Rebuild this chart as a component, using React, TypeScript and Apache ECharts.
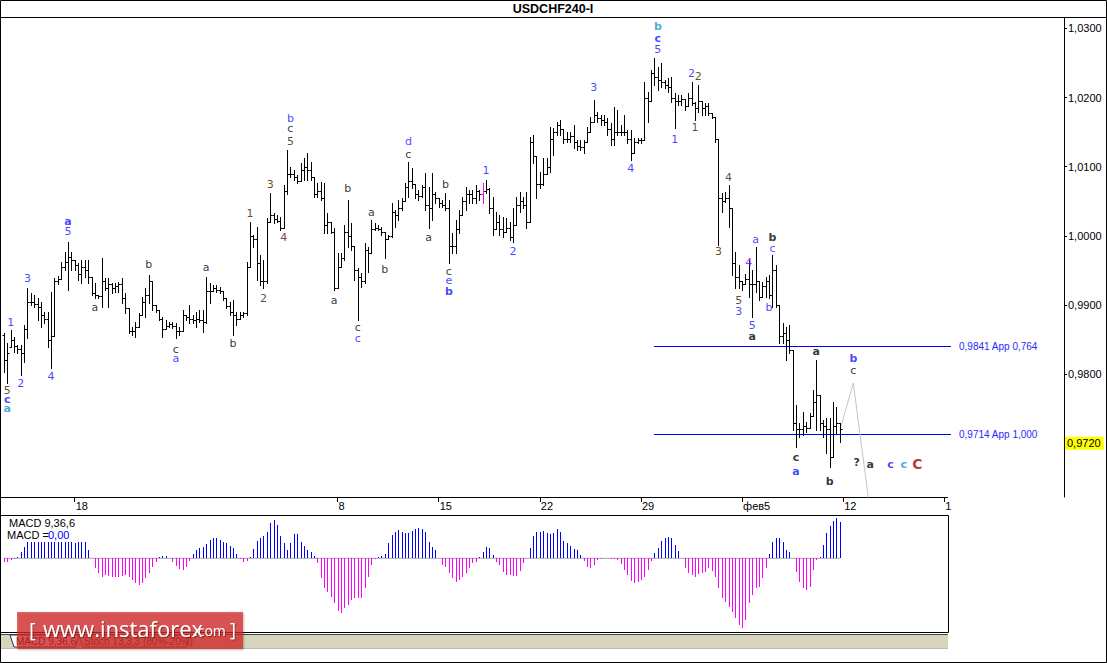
import React, { useEffect, useRef } from 'react';
import * as echarts from 'echarts';

// ---------- DATA ----------
// 4-hour USDCHF bars: [high, low, close] in pips (price x 10000)
const firstOpen = 9857;
const barsPart1: number[][] = [
  [9860,9803,9820],[9845,9787,9830],[9864,9839,9850],[9854,9832,9840],[9842,9831,9837],
  [9842,9799,9830],[9871,9818,9865],[9925,9852,9905],[9917,9900,9905],[9914,9897,9902],
  [9910,9878,9897],[9904,9868,9885],[9890,9874,9880],[9890,9839,9850],[9919,9809,9855],
  [9939,9855,9935],[9942,9930,9938],[9962,9938,9955],[9977,9951,9962],[9991,9922,9970],
  [9977,9951,9965],[9965,9950,9958],[9961,9936,9945],[9965,9932,9955],[9965,9940,9950],
  [9965,9932,9940],[9940,9914,9918],[9932,9910,9915],[9915,9910,9913],[9968,9897,9935],
  [9939,9922,9925],[9939,9897,9930],[9932,9917,9925],[9932,9919,9928],[9933,9919,9930],
  [9939,9903,9910],[9917,9888,9895],[9895,9860,9862],[9868,9857,9862],[9875,9854,9868],
  [9888,9868,9885],[9912,9885,9905],[9925,9883,9915],[9943,9903,9935],[9935,9893,9900],
  [9900,9890,9893],[9893,9878,9880],[9883,9854,9865],[9878,9865,9870],[9875,9868,9872],
];
const barsPart2: number[][] = [
  [9875,9867,9870],[9874,9852,9862],[9868,9857,9862],[9893,9862,9885],[9886,9878,9882],
  [9900,9874,9880],[9886,9874,9878],[9890,9868,9880],[9893,9875,9878],[9893,9861,9875],
  [9940,9874,9920],[9932,9903,9920],[9929,9920,9925],[9929,9919,9922],[9926,9917,9920],
  [9920,9907,9910],[9910,9896,9898],[9904,9886,9890],[9907,9857,9885],[9890,9871,9880],
  [9890,9880,9886],[9890,9883,9888],[9962,9886,9955],[10020,9955,10000],[10001,9984,9995],
  [10013,9936,9960],[9972,9929,9935],[9965,9925,9935],[10026,9932,10020],[10062,10020,10030],
  [10033,10019,10025],[10030,10020,10022],[10027,10008,10012],[10074,10011,10065],[10124,10060,10090],
  [10100,10085,10090],[10095,10081,10085],[10088,10076,10080],[10105,10080,10095],[10113,10081,10100],
  [10120,10081,10095],[10107,10081,10085],[10085,10056,10060],[10076,10056,10065],[10078,10052,10055],
  [10076,10004,10015],[10033,10004,10020],[10020,10004,10006],[10011,9922,9925],[9975,9925,9955],
];
const barsPart3: number[][] = [
  [9975,9955,9968],[10016,9965,10005],[10052,9984,10000],[10019,9980,9985],[9985,9936,9950],
  [9953,9878,9940],[9946,9926,9935],[9990,9932,9980],[9984,9948,9975],[10023,9975,10010],
  [10019,10008,10012],[10016,10008,10010],[10013,10001,10005],[10005,9968,9995],[10001,9995,10000],
  [10047,9998,10035],[10037,10013,10030],[10052,10023,10040],[10055,10037,10050],[10076,10050,10070],
  [10107,10056,10080],[10098,10069,10075],[10075,10055,10060],[10066,10052,10058],[10074,10056,10070],
  [10091,10037,10045],[10071,10011,10040],[10091,10023,10060],[10063,10047,10055],[10055,10042,10048],
  [10052,10042,10045],[10062,10037,10040],[10052,9961,9985],[10004,9975,9985],[10023,9975,10010],
  [10037,10004,10030],[10056,10030,10050],[10071,10037,10060],[10066,10047,10060],[10066,10047,10055],
  [10074,10047,10065],[10066,10052,10060],[10076,10047,10065],[10081,10062,10068],[10069,10033,10040],
  [10056,10001,10010],[10035,10010,10020],[10030,10001,10010],[10027,9998,10005],[10026,10005,10012],
];
const barsPart4: number[][] = [
  [10020,9994,9998],[10040,9991,10015],[10056,10015,10045],[10063,10035,10050],[10056,10040,10045],
  [10063,10011,10020],[10143,10020,10135],[10146,10105,10115],[10115,10055,10075],[10092,10069,10075],
  [10113,10074,10090],[10113,10090,10100],[10157,10092,10140],[10156,10117,10150],[10165,10146,10160],
  [10167,10146,10155],[10155,10134,10140],[10150,10136,10140],[10150,10136,10145],[10160,10127,10135],
  [10139,10124,10130],[10139,10124,10128],[10139,10120,10135],[10157,10135,10150],[10172,10150,10165],
  [10196,10165,10175],[10179,10165,10170],[10175,10160,10168],[10175,10160,10165],[10170,10146,10155],
  [10163,10131,10140],[10186,10131,10150],[10182,10146,10150],[10160,10146,10150],[10175,10146,10150],
  [10153,10134,10140],[10153,10110,10120],[10141,10120,10135],[10141,10134,10138],[10141,10134,10139],
  [10222,10139,10200],[10208,10165,10195],[10240,10195,10235],[10257,10218,10230],[10244,10211,10225],
  [10250,10215,10222],[10225,10214,10218],[10228,10208,10215],[10230,10194,10200],[10207,10156,10195],
];
const barsPart5: number[][] = [
  [10204,10189,10195],[10204,10189,10198],[10198,10182,10188],[10207,10188,10200],[10222,10189,10192],
  [10194,10167,10185],[10218,10179,10195],[10195,10175,10185],[10192,10175,10188],[10192,10175,10178],
  [10178,10170,10172],[10172,10136,10140],[10140,9987,10055],[10062,10035,10050],[10063,10049,10055],
  [10074,10013,10040],[10040,9943,9960],[9977,9925,9940],[9958,9925,9935],[9935,9922,9930],
  [9945,9930,9938],[9965,9912,9930],[9951,9883,9930],[9984,9919,9935],[9935,9907,9912],
  [9933,9912,9928],[9940,9912,9935],[9943,9910,9915],[9972,9897,9950],[9958,9897,9900],
  [9900,9845,9855],[9874,9845,9860],[9868,9821,9850],[9871,9831,9835],[9835,9719,9730],
  [9755,9695,9720],[9729,9709,9720],[9745,9712,9725],[9731,9716,9722],[9744,9722,9740],
  [9777,9740,9760],[9821,9719,9770],[9770,9719,9730],[9734,9709,9725],[9737,9686,9720],
  [9737,9666,9680],[9760,9680,9725],[9752,9715,9730],[9730,9702,9720],
];
const highlightedBar = 142; // the magenta bar

// MACD 9,36,6 histogram (one per bar, relative units)
const macdHist1 = [
  -10,-12,-5,-3,5,20,35,48,48,48, 48,48,48,48,48,48,48,48,48,48,
  48,45,48,50,50,25,2,-28,-45,-57, -50,-52,-55,-57,-55,-52,-50,-55,-65,-75,
  -80,-75,-60,-45,-25,-12,5,7,7,2, -12,-22,-32,-35,-25,-8,12,25,30,33,
  43,55,62,62,55,50,45,38,30,12, -1,-10,-8,5,28,52,62,68,78,105,
  115,100,68,45,25,45,72,72,50,38, 25,20,8,-15,-60,-88,-100,-115,-135,-158,
];
const macdHist2 = [
  -165,-150,-140,-125,-118,-118,-118,-90,-55,-20, -3,3,7,12,45,70,80,85,80,77,
  75,82,88,92,88,78,50,35,25,2, -20,-25,-45,-60,-72,-65,-55,-45,-30,-15,
  -12,3,20,35,32,10,-10,-20,-40,-50, -50,-52,-52,-38,-15,2,30,68,80,80,
  83,75,72,75,88,78,52,45,38,28, 25,10,-8,-25,-28,-20,-5,-1,1,1,
  -1,-2,-5,-18,-35,-50,-68,-75,-72,-65, -55,-35,-8,15,32,52,62,65,62,40,
];
const macdHist3 = [
  22,2,-28,-45,-50,-55,-48,-45,-40,-30, -38,-55,-88,-118,-130,-145,-160,-180,-200,-210,
  -185,-135,-110,-90,-85,-58,-30,12,48,62, 60,50,25,20,2,-40,-72,-90,-95,-85,
  -35,-5,5,40,75,98,112,120,110,
];

const priceTicks = [0.97, 0.98, 0.99, 1.0, 1.01, 1.02, 1.03];
const dateTicks: [number, string][] = [
  [21, '18'], [99, '8'], [129, '15'], [159, '22'], [189, '29'], [219, 'фев5'], [249, '12'], [279, '1'],
];
const fibLevels = [
  { price: 0.9841, text: '0,9841 App 0,764', from: 193, to: 281 },
  { price: 0.9714, text: '0,9714 App 1,000', from: 193, to: 281 },
];
const lastPrice = 0.972;
const forecastPath = [[248, 0.9719], [252, 0.9787], [257, 0.9601]];

// wave labels: [bar index, price, text, colour, bold, size]
const waveLabels: [number, number, string, string, boolean, number][] = [
  [1, 0.9776, '5', 'brown', false, 11], [1, 0.9764, 'c', 'blue', true, 11], [1, 0.9750, 'a', 'teal', true, 11],
  [2, 0.9874, '1', 'blue', false, 11], [5, 0.9786, '2', 'blue', false, 11], [7, 0.9938, '3', 'blue', false, 11],
  [14, 0.9797, '4', 'blue', false, 11], [19, 1.0006, '5', 'blue', false, 11], [19, 1.0020, 'a', 'blue', true, 11],
  [27, 0.9896, 'a', 'black', false, 11], [43, 0.9958, 'b', 'black', false, 11], [51, 0.9836, 'c', 'black', false, 11],
  [51, 0.9823, 'a', 'blue', false, 11], [60, 0.9954, 'a', 'black', false, 11], [68, 0.9845, 'b', 'black', false, 11],
  [73, 1.0033, '1', 'brown', false, 11], [77, 0.9909, '2', 'brown', false, 11], [79, 1.0074, '3', 'brown', false, 11],
  [83, 0.9998, '4', 'maroon', false, 11], [85, 1.0136, '5', 'brown', false, 11], [85, 1.0155, 'c', 'black', false, 11],
  [85, 1.0170, 'b', 'blue', false, 11], [98, 0.9907, 'a', 'black', false, 11], [102, 1.0068, 'b', 'black', false, 11],
  [105, 0.9867, 'c', 'black', false, 11], [105, 0.9851, 'c', 'blue', false, 11], [109, 1.0034, 'a', 'black', false, 11],
  [113, 0.9952, 'b', 'black', false, 11], [120, 1.0117, 'c', 'black', false, 11], [120, 1.0136, 'd', 'blue', false, 11],
  [126, 0.9998, 'a', 'black', false, 11], [131, 1.0074, 'b', 'black', false, 11], [132, 0.9949, 'c', 'black', false, 11],
  [132, 0.9936, 'e', 'blue', false, 11], [132, 0.9920, 'b', 'blue', true, 11], [143, 1.0094, '1', 'blue', false, 11],
  [151, 0.9977, '2', 'blue', false, 11], [175, 1.0214, '3', 'blue', false, 11], [186, 1.0098, '4', 'blue', false, 11],
  [194, 1.0270, '5', 'blue', false, 11], [194, 1.0286, 'c', 'blue', true, 11], [194, 1.0302, 'b', 'teal', true, 11],
  [199, 1.0140, '1', 'blue', false, 11], [204, 1.0235, '2', 'blue', false, 11], [206, 1.0230, '2', 'brown', false, 11],
  [205, 1.0157, '1', 'brown', false, 11], [212, 0.9977, '3', 'brown', false, 11], [215, 1.0084, '4', 'brown', false, 11],
  [218, 0.9907, '5', 'brown', false, 11], [218, 0.9890, '3', 'blue', false, 11], [221, 0.9961, '4', 'purple', false, 11],
  [222, 0.9871, '5', 'blue', false, 11], [222, 0.9854, 'a', 'black', true, 11], [223, 0.9995, 'a', 'blue', false, 11],
  [228, 0.9997, 'b', 'black', true, 11], [228, 0.9982, 'c', 'blue', false, 11], [227, 0.9897, 'b', 'blue', false, 11],
  [241, 0.9832, 'a', 'black', true, 11], [235, 0.9680, 'c', 'black', true, 11], [235, 0.9659, 'a', 'blue', true, 11],
  [245, 0.9644, 'b', 'black', true, 11], [252, 0.9823, 'b', 'blue', true, 11], [252, 0.9805, 'c', 'black', false, 11],
  [253, 0.9672, '?', 'black', true, 11], [257, 0.9670, 'a', 'black', true, 11], [263, 0.9670, 'c', 'blue', true, 11],
  [267, 0.9670, 'c', 'teal', true, 11], [271, 0.9670, 'C', 'darkred', true, 14],
];

// ---------- STYLE / LAYOUT ----------
const COLORS: Record<string, string> = {
  blue: '#1414ff', teal: '#1b94cc', brown: '#3a1a00', maroon: '#5a0c00', black: '#000000',
  purple: '#8a00e6', darkred: '#b00000',
};
const PRICE_CATS = 315;
const MACD_CATS = 281;
const GRID_LEFT = 2.2;
const STEP = 3.3708;

function buildOption() {
  const bars = [...barsPart1, ...barsPart2, ...barsPart3, ...barsPart4, ...barsPart5];
  const ohlc = bars.map((b, j) => {
    const open = j === 0 ? firstOpen : bars[j - 1][2];
    return [j, open / 1e4, b[0] / 1e4, b[1] / 1e4, b[2] / 1e4];
  });
  const hist = [...macdHist1, ...macdHist2, ...macdHist3].map((v, k) => [k, v]);
  const priceCats = Array.from({ length: PRICE_CATS }, (_, i) => String(i));
  const macdCats = Array.from({ length: MACD_CATS }, (_, i) => String(i));
  const tickMap: Record<number, string> = {};
  dateTicks.forEach(([i, t]) => (tickMap[i] = t));
  const fmt = (v: number) => v.toFixed(4).replace('.', ',');

  const g: any[] = [];
  // title
  g.push({ type: 'text', x: 553, y: 9, style: { text: 'USDCHF240-I', fill: '#000', font: 'bold 12.5px "Liberation Sans"', align: 'center', verticalAlign: 'middle' } });
  g.push({ type: 'line', shape: { x1: 0, y1: 17.5, x2: 1107, y2: 17.5 }, style: { stroke: '#000', lineWidth: 1 } });
  // x-axis strip & MACD box
  g.push({ type: 'line', shape: { x1: 0, y1: 497.5, x2: 948, y2: 497.5 }, style: { stroke: '#000', lineWidth: 1 } });
  g.push({ type: 'rect', shape: { x: 0.5, y: 515.5, width: 948, height: 117 }, style: { fill: 'none', stroke: '#000', lineWidth: 1 } });
  g.push({ type: 'line', shape: { x1: 0, y1: 634.5, x2: 948, y2: 634.5 }, style: { stroke: '#444', lineWidth: 1 } });
  g.push({ type: 'rect', shape: { x: 1, y: 635, width: 947, height: 13 }, style: { fill: '#d8d5bd' } });
  g.push({ type: 'line', shape: { x1: 0, y1: 648.5, x2: 948, y2: 648.5 }, style: { stroke: '#bbb', lineWidth: 1 } });
  // tabs
  g.push({ type: 'polygon', shape: { points: [[10, 635], [14, 647], [75, 647], [79, 635]] }, style: { fill: '#fff', stroke: '#333', lineWidth: 1 } });
  g.push({ type: 'text', x: 16, y: 641, style: { text: 'MACD 9,36,6', fill: '#000', font: '10px "Liberation Sans"', verticalAlign: 'middle' } });
  g.push({ type: 'polygon', shape: { points: [[79, 635], [83, 647], [186, 647], [190, 635]] }, style: { fill: 'none', stroke: '#555', lineWidth: 1 } });
  g.push({ type: 'text', x: 84, y: 641, style: { text: 'Stoch 13,3,3 (80%-20%)', fill: '#333', font: '10px "Liberation Sans"', verticalAlign: 'middle' } });
  // MACD captions
  g.push({ type: 'text', x: 9, y: 523, style: { text: 'MACD 9,36,6', fill: '#000', font: '11px "Liberation Sans"', verticalAlign: 'middle' } });
  g.push({ type: 'text', x: 7, y: 535, style: { text: 'MACD =', fill: '#000', font: '11px "Liberation Sans"', verticalAlign: 'middle' } });
  g.push({ type: 'text', x: 48, y: 535, style: { text: '0,00', fill: '#0000ff', font: '11px "Liberation Sans"', verticalAlign: 'middle' } });
  // outer border
  g.push({ type: 'rect', shape: { x: 0.5, y: 0.5, width: 1106, height: 662 }, style: { fill: 'none', stroke: '#000', lineWidth: 1 } });
  // watermark
  g.push({ type: 'rect', z: 100, shape: { x: 17, y: 612, width: 226, height: 37 }, style: { fill: 'rgba(214,40,40,0.72)', shadowColor: 'rgba(0,0,0,0.35)', shadowBlur: 2, shadowOffsetX: 1, shadowOffsetY: 1 } });
  const wmShadow = { textShadowColor: 'rgba(80,0,0,0.5)', textShadowBlur: 1, textShadowOffsetX: 1, textShadowOffsetY: 1 };
  g.push({ type: 'text', z: 101, x: 29, y: 629, style: { text: '[', fill: '#fff', font: '20px "Open Sans"', verticalAlign: 'middle', ...wmShadow } });
  g.push({ type: 'text', z: 101, x: 43, y: 628, style: { text: 'www.instaforex', fill: '#fff', font: '22px "Open Sans"', verticalAlign: 'middle', ...wmShadow } });
  g.push({ type: 'text', z: 101, x: 194, y: 630, style: { text: '.com', fill: '#fff', font: '14px "Open Sans"', verticalAlign: 'middle', ...wmShadow } });
  g.push({ type: 'text', z: 101, x: 230, y: 629, style: { text: ']', fill: '#fff', font: '18px "Open Sans"', verticalAlign: 'middle', ...wmShadow } });

  return {
    animation: false,
    backgroundColor: '#ffffff',
    textStyle: { fontFamily: 'Liberation Sans' },
    grid: [
      { left: GRID_LEFT, top: 18, width: PRICE_CATS * STEP, height: 479, containLabel: false, outerBoundsMode: 'none' },
      { left: GRID_LEFT, top: 515, width: MACD_CATS * STEP, height: 117, containLabel: false, outerBoundsMode: 'none' },
    ],
    xAxis: [
      {
        type: 'category', gridIndex: 0, data: priceCats, boundaryGap: true, position: 'bottom',
        axisLine: { show: false },
        axisTick: { show: true, alignWithLabel: true, length: 5, interval: (i: number) => i in tickMap, lineStyle: { color: '#000' } },
        axisLabel: {
          show: true, interval: (i: number) => i in tickMap, formatter: (v: string) => tickMap[Number(v)] || '',
          align: 'left', margin: 3, padding: [0, 0, 0, 1], fontSize: 11, color: '#000', lineHeight: 12,
          fontFamily: 'Liberation Sans',
        },
        splitLine: { show: false },
      },
      { type: 'category', gridIndex: 1, data: macdCats, boundaryGap: true, show: false },
    ],
    yAxis: [
      {
        type: 'value', gridIndex: 0, position: 'right', min: 0.96223, max: 1.0315,
        axisLine: { show: true, lineStyle: { color: '#000', width: 1 } },
        axisTick: { show: true, inside: false, length: 3, customValues: priceTicks, lineStyle: { color: '#000' } },
        axisLabel: { show: true, customValues: priceTicks, margin: 4, color: '#000', fontSize: 11, fontFamily: 'Liberation Sans', formatter: (v: number) => fmt(v) },
        splitLine: { show: false },
      },
      { type: 'value', gridIndex: 1, min: -221, max: 130, show: false, splitLine: { show: false } },
    ],
    series: [
      {
        type: 'custom', name: 'USDCHF', xAxisIndex: 0, yAxisIndex: 0, data: ohlc,
        encode: { x: 0, y: [1, 2, 3, 4] }, silent: true, z: 3,
        renderItem: (params: any, api: any) => {
          const j = api.value(0);
          const o = api.value(1), h = api.value(2), l = api.value(3), c = api.value(4);
          const ph = api.coord([j, h]);
          const pl = api.coord([j, l]);
          const po = api.coord([j, Math.min(h, Math.max(l, o))]);
          const pc = api.coord([j, c]);
          const x = Math.round(ph[0]) + 0.5;
          const color = params.dataIndex === highlightedBar ? '#ff00ff' : '#000000';
          const st = { stroke: color, lineWidth: 1 };
          const yo = Math.round(po[1]) + 0.5;
          const yc = Math.round(pc[1]) + 0.5;
          return {
            type: 'group',
            children: [
              { type: 'line', shape: { x1: x, y1: Math.round(ph[1]), x2: x, y2: Math.round(pl[1]) + 1 }, style: st },
              { type: 'line', shape: { x1: x - 2, y1: yo, x2: x, y2: yo }, style: st },
              { type: 'line', shape: { x1: x, y1: yc, x2: x + 2, y2: yc }, style: st },
            ],
          };
        },
      },
      {
        type: 'line', name: 'forecast', xAxisIndex: 0, yAxisIndex: 0, data: forecastPath, symbol: 'none',
        lineStyle: { color: '#c4c4c4', width: 1 }, clip: true, silent: true, z: 2,
      },
      {
        type: 'custom', name: 'fib', xAxisIndex: 0, yAxisIndex: 0, silent: true, z: 2,
        data: fibLevels.map((f) => [f.from, f.to, f.price]),
        encode: { x: [0, 1], y: 2 },
        renderItem: (params: any, api: any) => {
          const f = fibLevels[params.dataIndex];
          const p1 = api.coord([api.value(0), api.value(2)]);
          const p2 = api.coord([api.value(1), api.value(2)]);
          const y = Math.round(p1[1]) + 0.5;
          return {
            type: 'group',
            children: [
              { type: 'line', shape: { x1: Math.round(p1[0]), y1: y, x2: Math.round(p2[0]), y2: y }, style: { stroke: '#0000ff', lineWidth: 1 } },
              {
                type: 'text', x: Math.round(p2[0]) + 8, y: y,
                style: { text: f.text, fill: '#2a2aff', font: '10px "Liberation Sans"', verticalAlign: 'middle', align: 'left' },
              },
            ],
          };
        },
      },
      {
        type: 'line', name: 'last', xAxisIndex: 0, yAxisIndex: 0, data: [], symbol: 'none', silent: true, z: 4,
        markLine: {
          silent: true, symbol: ['none', 'none'],
          lineStyle: { color: 'rgba(255,255,255,0)', width: 1, type: 'solid' },
          data: [{ yAxis: lastPrice }],
          label: {
            show: true, position: 'end', distance: 1, formatter: fmt(lastPrice), color: '#000', fontSize: 11,
            fontFamily: 'Liberation Sans', backgroundColor: '#ffff00', padding: [1, 3, 1, 2],
          },
        },
      },
      {
        type: 'scatter', name: 'waves', xAxisIndex: 0, yAxisIndex: 0, symbol: 'circle', symbolSize: 1,
        itemStyle: { color: 'rgba(0,0,0,0)' }, silent: true, z: 5,
        data: waveLabels.map(([j, p, t, c, b, s]) => ({
          value: [j, p],
          label: {
            show: true, position: 'inside', formatter: t, color: COLORS[c], fontWeight: b ? 'bold' : 'normal',
            fontSize: s, fontFamily: 'DejaVu Sans',
          },
        })),
      },
      {
        type: 'custom', name: 'MACD', xAxisIndex: 1, yAxisIndex: 1, data: hist, encode: { x: 0, y: 1 }, silent: true, z: 3,
        renderItem: (params: any, api: any) => {
          const k = api.value(0);
          const v = api.value(1);
          const p0 = api.coord([k, 0]);
          const p1 = api.coord([k, v]);
          const x = Math.round(p0[0]) + 0.5;
          return {
            type: 'line',
            shape: { x1: x, y1: Math.round(p0[1]), x2: x, y2: Math.round(p1[1]) },
            style: { stroke: v >= 0 ? '#0000ff' : '#ff00ff', lineWidth: 1 },
          };
        },
      },
      {
        type: 'line', name: 'zero', xAxisIndex: 1, yAxisIndex: 1, data: [[0, 0], [hist.length - 1, 0]],
        symbol: 'none', lineStyle: { color: '#a8a8a8', width: 1 }, silent: true, z: 2,
      },
    ],
    graphic: { elements: g },
  };
}

export default function App() {
  const ref = useRef<HTMLDivElement>(null);
  useEffect(() => {
    if (!ref.current) return;
    const chart = echarts.init(ref.current, null, { renderer: 'svg' });
    chart.setOption(buildOption() as any);
    return () => chart.dispose();
  }, []);
  return <div ref={ref} style={{ position: 'fixed', left: 0, top: 0, width: 1107, height: 663 }} />;
}
